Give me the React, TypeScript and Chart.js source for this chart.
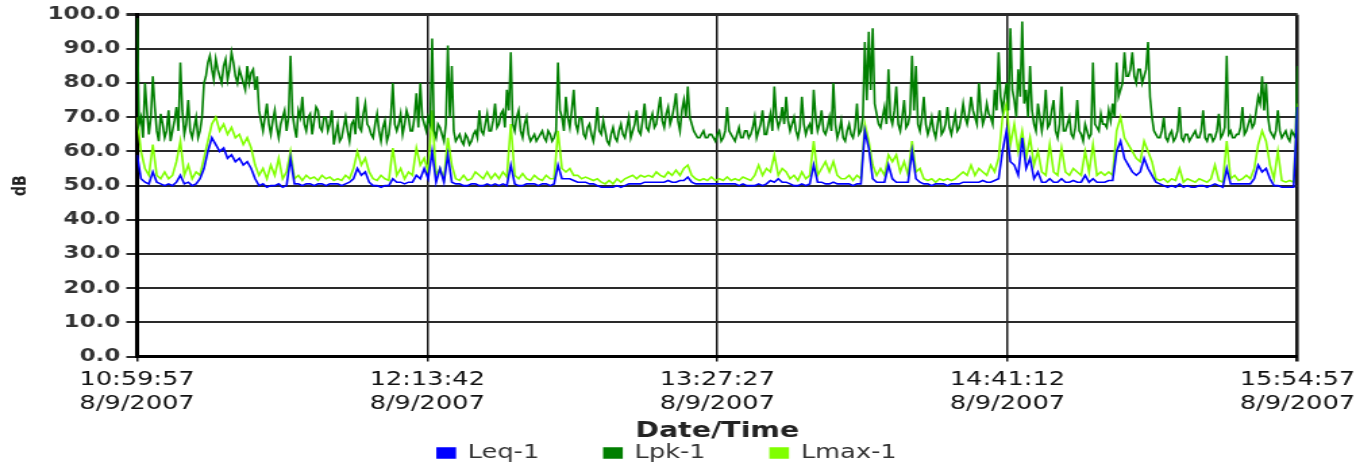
import React, { useEffect, useRef } from "react";
import { Chart, registerables } from "chart.js";

Chart.register(...registerables);

// ---- data (samples from 10:59:57; Leq/Lmax one per minute, Lpk also at half-minutes) ----
const SAMPLE_STEP_S = 60;
const HALF_STEP_S = 30;
const TICK_VALUES_S = [0, 4425, 8850, 13275, 17700];
const TICK_TIMES = ["10:59:57", "12:13:42", "13:27:27", "14:41:12", "15:54:57"];
const TICK_DATE = "8/9/2007";
const Y_MIN = 0;
const Y_MAX = 100;
const Y_STEP = 10;

const SERIES_NAMES = ["Leq-1", "Lpk-1", "Lmax-1"];
const SERIES_COLORS = ["#0000ff", "#007f00", "#80ff00"];
const SERIES_WIDTHS = [1.6, 1.6, 1.6];

const LEQ = [
  59, 52, 51, 50.5, 54, 51, 50.5, 50, 50.5, 50,
  51, 53, 50.5, 51, 50, 50.5, 52, 55, 60, 64,
  62, 60, 61, 58, 59, 57, 58, 56, 57, 55,
  52, 50, 50.5, 49.5, 50, 50, 50.5, 49.5, 50, 58,
  50.5, 50.5, 50, 50.5, 50.5, 50, 50.5, 50.5, 50, 50.5,
  50.5, 50.5, 50, 50.5, 51, 52, 55, 53, 54, 51,
  50, 50, 49.5, 50, 50, 52, 51, 51, 50.5, 51,
  51, 53, 52, 55, 52, 60, 51, 55, 51, 59,
  51, 50.5, 50.5, 50, 50, 50.5, 50.5, 50, 50, 50.5,
  50, 50.5, 50, 50.5, 50, 56, 50.5, 50, 50, 50.5,
  50.5, 50.5, 50, 50.5, 50.5, 50, 50.5, 56, 52, 52,
  52, 51.5, 51, 51, 51, 50.5, 50.5, 50, 49.5, 49.5,
  49.5, 49.5, 50, 49.5, 50, 50.5, 50.5, 50.5, 50.5, 51,
  51, 51, 51, 51, 51, 51.5, 51, 51, 51.5, 51.5,
  52.5, 51, 50.5, 50.5, 50.5, 50.5, 50.5, 50.5, 50.5, 50.5,
  50.5, 50.5, 50.5, 50, 50.5, 50, 50, 50, 50.5, 50,
  50.5, 51.5, 51, 52, 51, 51, 50.5, 50, 50, 50.5,
  50, 50.5, 56, 51, 51, 50.5, 50.5, 51, 50.5, 50.5,
  50.5, 50.5, 50, 50.5, 50.5, 66, 61, 52, 51, 51,
  51, 56, 52, 51, 51, 51, 51, 60, 52, 51,
  50.5, 50.5, 50, 50.5, 50.5, 50.5, 50, 50.5, 50.5, 50.5,
  51, 51, 51, 51, 51, 51.5, 51, 51, 51.5, 52,
  60, 66, 57, 56, 53, 64, 55, 58, 52, 54,
  51, 51, 52, 51, 51, 52, 51, 51, 51.5, 51,
  51, 53, 51, 52, 51, 51, 51, 51.5, 51.5, 60,
  63, 58, 56, 54, 53, 54, 58, 55, 53, 51,
  50.5, 50, 49.5, 50, 49.5, 50.5, 49.5, 50, 49.5, 49.5,
  50, 50, 49.5, 50, 50.5, 50, 49.5, 55, 50.5, 50.5,
  50.5, 50.5, 50.5, 50.5, 52, 56, 54, 55, 52, 50,
  50, 49.5, 49.5, 49.5, 49.5, 73,
];

// Lpk on the whole minutes
const LPK = [
  99, 70, 80, 65, 82, 66, 71, 64, 72, 66,
  73, 86, 65, 75, 64, 70, 66, 80, 86, 84,
  87, 82, 85, 81, 89, 82, 84, 80, 85, 83,
  78, 72, 66, 74, 65, 72, 64, 70, 66, 88,
  67, 72, 76, 66, 71, 69, 72, 66, 70, 68,
  62, 68, 64, 70, 63, 69, 76, 66, 74, 67,
  64, 71, 63, 69, 65, 80, 66, 71, 68, 70,
  66, 77, 80, 68, 70, 93, 64, 67, 63, 91,
  85, 63, 65, 62, 64, 63, 66, 72, 65, 71,
  66, 74, 68, 72, 78, 89, 66, 72, 64, 70,
  63, 65, 64, 66, 63, 65, 64, 86, 70, 76,
  67, 78, 66, 70, 64, 68, 63, 73, 65, 66,
  62, 67, 63, 68, 64, 70, 66, 72, 65, 74,
  66, 71, 68, 76, 67, 73, 70, 77, 66, 75,
  79, 68, 65, 64, 66, 64, 65, 63, 66, 64,
  73, 65, 63, 67, 64, 66, 65, 70, 66, 72,
  65, 71, 79, 67, 73, 76, 66, 70, 64, 76,
  65, 68, 78, 66, 72, 65, 70, 80, 64, 69,
  63, 68, 64, 74, 66, 92, 95, 96, 71, 67,
  73, 84, 68, 79, 66, 75, 68, 88, 85, 66,
  76, 65, 70, 64, 72, 66, 73, 65, 71, 67,
  74, 68, 76, 70, 80, 68, 74, 70, 78, 89,
  72, 80, 96, 75, 84, 98, 78, 85, 68, 74,
  66, 78, 68, 75, 64, 79, 66, 70, 64, 75,
  65, 68, 64, 86, 67, 71, 68, 72, 74, 86,
  78, 89, 82, 89, 80, 84, 82, 92, 70, 65,
  64, 70, 63, 66, 64, 73, 63, 65, 64, 66,
  64, 72, 63, 65, 64, 71, 65, 88, 66, 64,
  65, 73, 66, 70, 68, 76, 82, 80, 66, 64,
  72, 64, 66, 63, 65, 85,
];

// Lpk on the half minutes (minute + 30 s)
const LPK_MID = [
  68, 64, 72, 70, 73, 63, 68, 66, 63, 69,
  66, 72, 68, 66, 67, 64, 70, 82, 88, 81,
  84, 80, 87, 84, 86, 80, 82, 78, 80, 84,
  82, 69, 70, 68, 69, 67, 68, 72, 70, 71,
  64, 70, 68, 70, 65, 73, 67, 70, 66, 72,
  65, 63, 67, 66, 68, 65, 67, 71, 68, 65,
  68, 66, 67, 63, 70, 68, 68, 65, 72, 66,
  70, 67, 70, 66, 68, 66, 68, 65, 68, 70,
  66, 64, 63, 65, 62, 65, 64, 66, 68, 66,
  69, 67, 71, 67, 72, 68, 70, 66, 68, 65,
  64, 63, 65, 64, 66, 63, 66, 72, 66, 70,
  72, 68, 70, 65, 67, 65, 67, 66, 69, 63,
  65, 64, 66, 65, 67, 64, 68, 66, 69, 67,
  69, 67, 72, 69, 71, 68, 73, 69, 72, 70,
  70, 66, 64, 65, 64, 65, 64, 65, 63, 66,
  66, 64, 65, 64, 66, 64, 67, 64, 68, 65,
  68, 66, 70, 69, 68, 69, 68, 66, 67, 68,
  67, 65, 70, 68, 66, 67, 66, 68, 66, 64,
  66, 65, 67, 65, 70, 75, 78, 74, 68, 70,
  68, 70, 72, 68, 70, 67, 71, 72, 68, 70,
  68, 67, 66, 68, 65, 68, 67, 68, 66, 70,
  70, 71, 72, 68, 72, 70, 71, 68, 72, 76,
  76, 72, 78, 70, 76, 74, 70, 72, 66, 70,
  70, 67, 72, 66, 68, 66, 68, 65, 67, 66,
  63, 66, 65, 68, 66, 68, 67, 69, 70, 76,
  80, 82, 84, 82, 84, 80, 84, 76, 66, 64,
  66, 64, 65, 63, 66, 64, 65, 63, 65, 64,
  66, 64, 65, 63, 66, 64, 67, 65, 64, 65,
  67, 65, 68, 67, 72, 74, 72, 70, 65, 66,
  66, 65, 64, 66, 64,
];

const LMAX = [
  70, 60, 55, 53, 62, 53, 52, 54, 52, 53,
  57, 63, 53, 56, 52, 54, 53, 58, 63, 68,
  70, 66, 68, 65, 67, 64, 65, 62, 64, 61,
  56, 53, 55, 52, 56, 53, 58, 52, 54, 60,
  52, 53, 51.5, 53, 52, 52.5, 51.5, 53, 52, 52.5,
  51.5, 52, 51.5, 53, 52, 55, 60, 56, 58, 54,
  52, 51.5, 53, 52, 51.5, 61, 53, 55, 52, 54,
  53, 61, 56, 58, 54, 72, 53, 55, 52, 64,
  56, 52, 51.5, 53, 51.5, 52, 54, 53, 52, 54,
  52, 53.5, 52, 54, 52.5, 68, 53, 52, 53.5, 52,
  51.5, 53, 52, 51.5, 53, 52, 52, 66, 55, 54,
  55, 53, 53, 52, 52.5, 52, 51.5, 52, 51, 50.5,
  51.5, 50.5, 52, 51, 52, 52.5, 53, 52, 53, 52.5,
  53, 52.5, 54, 53, 52.5, 54, 53, 54.5, 53, 55,
  56, 53, 52, 51.5, 52, 51.5, 52.5, 51.5, 52, 51.5,
  52.5, 51.5, 52, 51.5, 52.5, 52, 51.5, 53, 56, 53,
  55, 54, 59, 53, 55, 54, 52, 53, 51.5, 54,
  52, 53, 63, 53, 55, 57, 54, 57, 53, 52,
  52, 53, 51.5, 53, 52, 68, 63, 56, 53, 55,
  53, 59, 57, 59, 54, 57, 53, 63, 54, 55,
  52, 51.5, 52, 51, 52, 51.5, 52, 51.5, 52, 53,
  54, 53, 56, 53, 55, 54, 53, 56, 54, 58,
  70, 74, 62, 68, 60, 66, 58, 64, 56, 60,
  54, 53, 62, 54, 53, 61, 54, 53, 55, 54,
  53, 60, 54, 62, 53, 54, 53, 54, 53, 66,
  70, 64, 62, 60, 58, 57, 63, 60, 57, 52,
  51.5, 52, 51, 52, 51.5, 55, 51, 52, 51.5, 51,
  52, 51.5, 51, 52, 56, 51.5, 51, 63, 52, 53,
  51.5, 52, 53, 52, 55, 62, 66, 63, 56, 52,
  60, 51.5, 51, 51.5, 51, 74,
];

// ---- layout (internal canvas px; canvas is stretched horizontally) ----
const PAGE_W = 1356;
const PAGE_H = 467;
const CANVAS_W = 1012;
const STRETCH = 1.3506;

function minutePoints(values: number[]) {
  return values.map((v, i) => ({ x: i * SAMPLE_STEP_S, y: v }));
}

function lpkPoints() {
  const pts: { x: number; y: number }[] = [];
  LPK.forEach((v, i) => {
    pts.push({ x: i * SAMPLE_STEP_S, y: v });
    if (i < LPK_MID.length) pts.push({ x: i * SAMPLE_STEP_S + HALF_STEP_S, y: LPK_MID[i] });
  });
  return pts;
}

export default function App() {
  const ref = useRef<HTMLCanvasElement | null>(null);

  useEffect(() => {
    const canvas = ref.current;
    if (!canvas) return;
    const family = "'DejaVu Sans', Verdana, sans-serif";
    Chart.defaults.font.family = family;

    const seriesData = [minutePoints(LEQ), lpkPoints(), minutePoints(LMAX)];

    const datasets = SERIES_NAMES.map((name, s) => ({
      label: name,
      data: seriesData[s],
      borderColor: SERIES_COLORS[s],
      backgroundColor: SERIES_COLORS[s],
      borderWidth: SERIES_WIDTHS[s],
      pointRadius: 0,
      tension: 0,
      yAxisID: "y",
      xAxisID: "x",
    }));

    const chart = new Chart(canvas, {
      type: "line",
      data: { datasets },
      options: {
        animation: false,
        responsive: false,
        devicePixelRatio: 1,
        parsing: false as any,
        normalized: true,
        layout: { padding: { top: 12.5, left: 0, right: 24.3, bottom: -5.5 } },
        plugins: {
          tooltip: { enabled: false },
          legend: {
            position: "bottom",
            title: {
              display: true,
              text: "",
              font: { family, size: 1, lineHeight: 1 },
              padding: { top: 0, bottom: -25 },
            },
            labels: {
              boxWidth: 13,
              boxHeight: 10,
              padding: 48,
              color: "#333",
              font: { family, size: 19 },
            },
          },
        },
        scales: {
          x: {
            type: "linear",
            position: "bottom",
            min: TICK_VALUES_S[0],
            max: TICK_VALUES_S[TICK_VALUES_S.length - 1],
            afterBuildTicks: (scale: any) => {
              scale.ticks = TICK_VALUES_S.map((v) => ({ value: v }));
            },
            afterFit: (scale: any) => {
              scale.height = 63;
            },
            ticks: {
              autoSkip: false,
              maxRotation: 0,
              minRotation: 0,
              padding: 7,
              color: "#111",
              font: { family, size: 19, lineHeight: 1.25 },
              callback: (_v: any, index: number) => [TICK_TIMES[index], TICK_DATE],
            },
            grid: {
              color: "#1a1a1a",
              lineWidth: (ctx: any) => (ctx.index === TICK_VALUES_S.length - 1 ? 2.6 : 1.5),
              tickLength: 5,
              drawTicks: true,
            },
            border: { display: true, color: "#000", width: 3 },
            title: {
              display: true,
              text: "Date/Time",
              color: "#222",
              font: { family, size: 21, weight: "bold", lineHeight: 24 / 21 },
              padding: { top: 0, bottom: -24 },
            },
          },
          y: {
            type: "linear",
            position: "left",
            min: Y_MIN,
            max: Y_MAX,
            afterFit: (scale: any) => {
              scale.width = 101.5;
            },
            ticks: {
              stepSize: Y_STEP,
              padding: 4.5,
              color: "#333",
              font: { family, size: 17, weight: "bold" },
              callback: (v: any) => Number(v).toFixed(1),
            },
            grid: {
              color: "#2a2a2a",
              lineWidth: (ctx: any) => (ctx.tick && ctx.tick.value === Y_MAX ? 3 : 2),
              tickLength: 8,
            },
            border: { display: true, color: "#000", width: 3 },
            title: {
              display: true,
              text: "dB",
              color: "#222",
              font: { family, size: 14, weight: "bold", lineHeight: 1.2 },
              padding: { top: 7, bottom: 0 },
            },
          },
          yR: {
            type: "linear",
            position: "right",
            display: true,
            afterFit: (scale: any) => {
              scale.width = 27;
            },
            ticks: { display: false },
            grid: { display: false, drawTicks: false },
            border: { display: false },
            title: { display: false },
          },
        },
      } as any,
    });

    return () => chart.destroy();
  }, []);

  return (
    <div
      style={{
        position: "fixed",
        left: 0,
        top: 0,
        width: PAGE_W,
        height: PAGE_H,
        overflow: "hidden",
        background: "#fff",
      }}
    >
      <div
        style={{
          width: CANVAS_W,
          height: PAGE_H,
          transform: `scaleX(${STRETCH})`,
          transformOrigin: "0 0",
        }}
      >
        <canvas ref={ref} width={CANVAS_W} height={PAGE_H} />
      </div>
    </div>
  );
}
